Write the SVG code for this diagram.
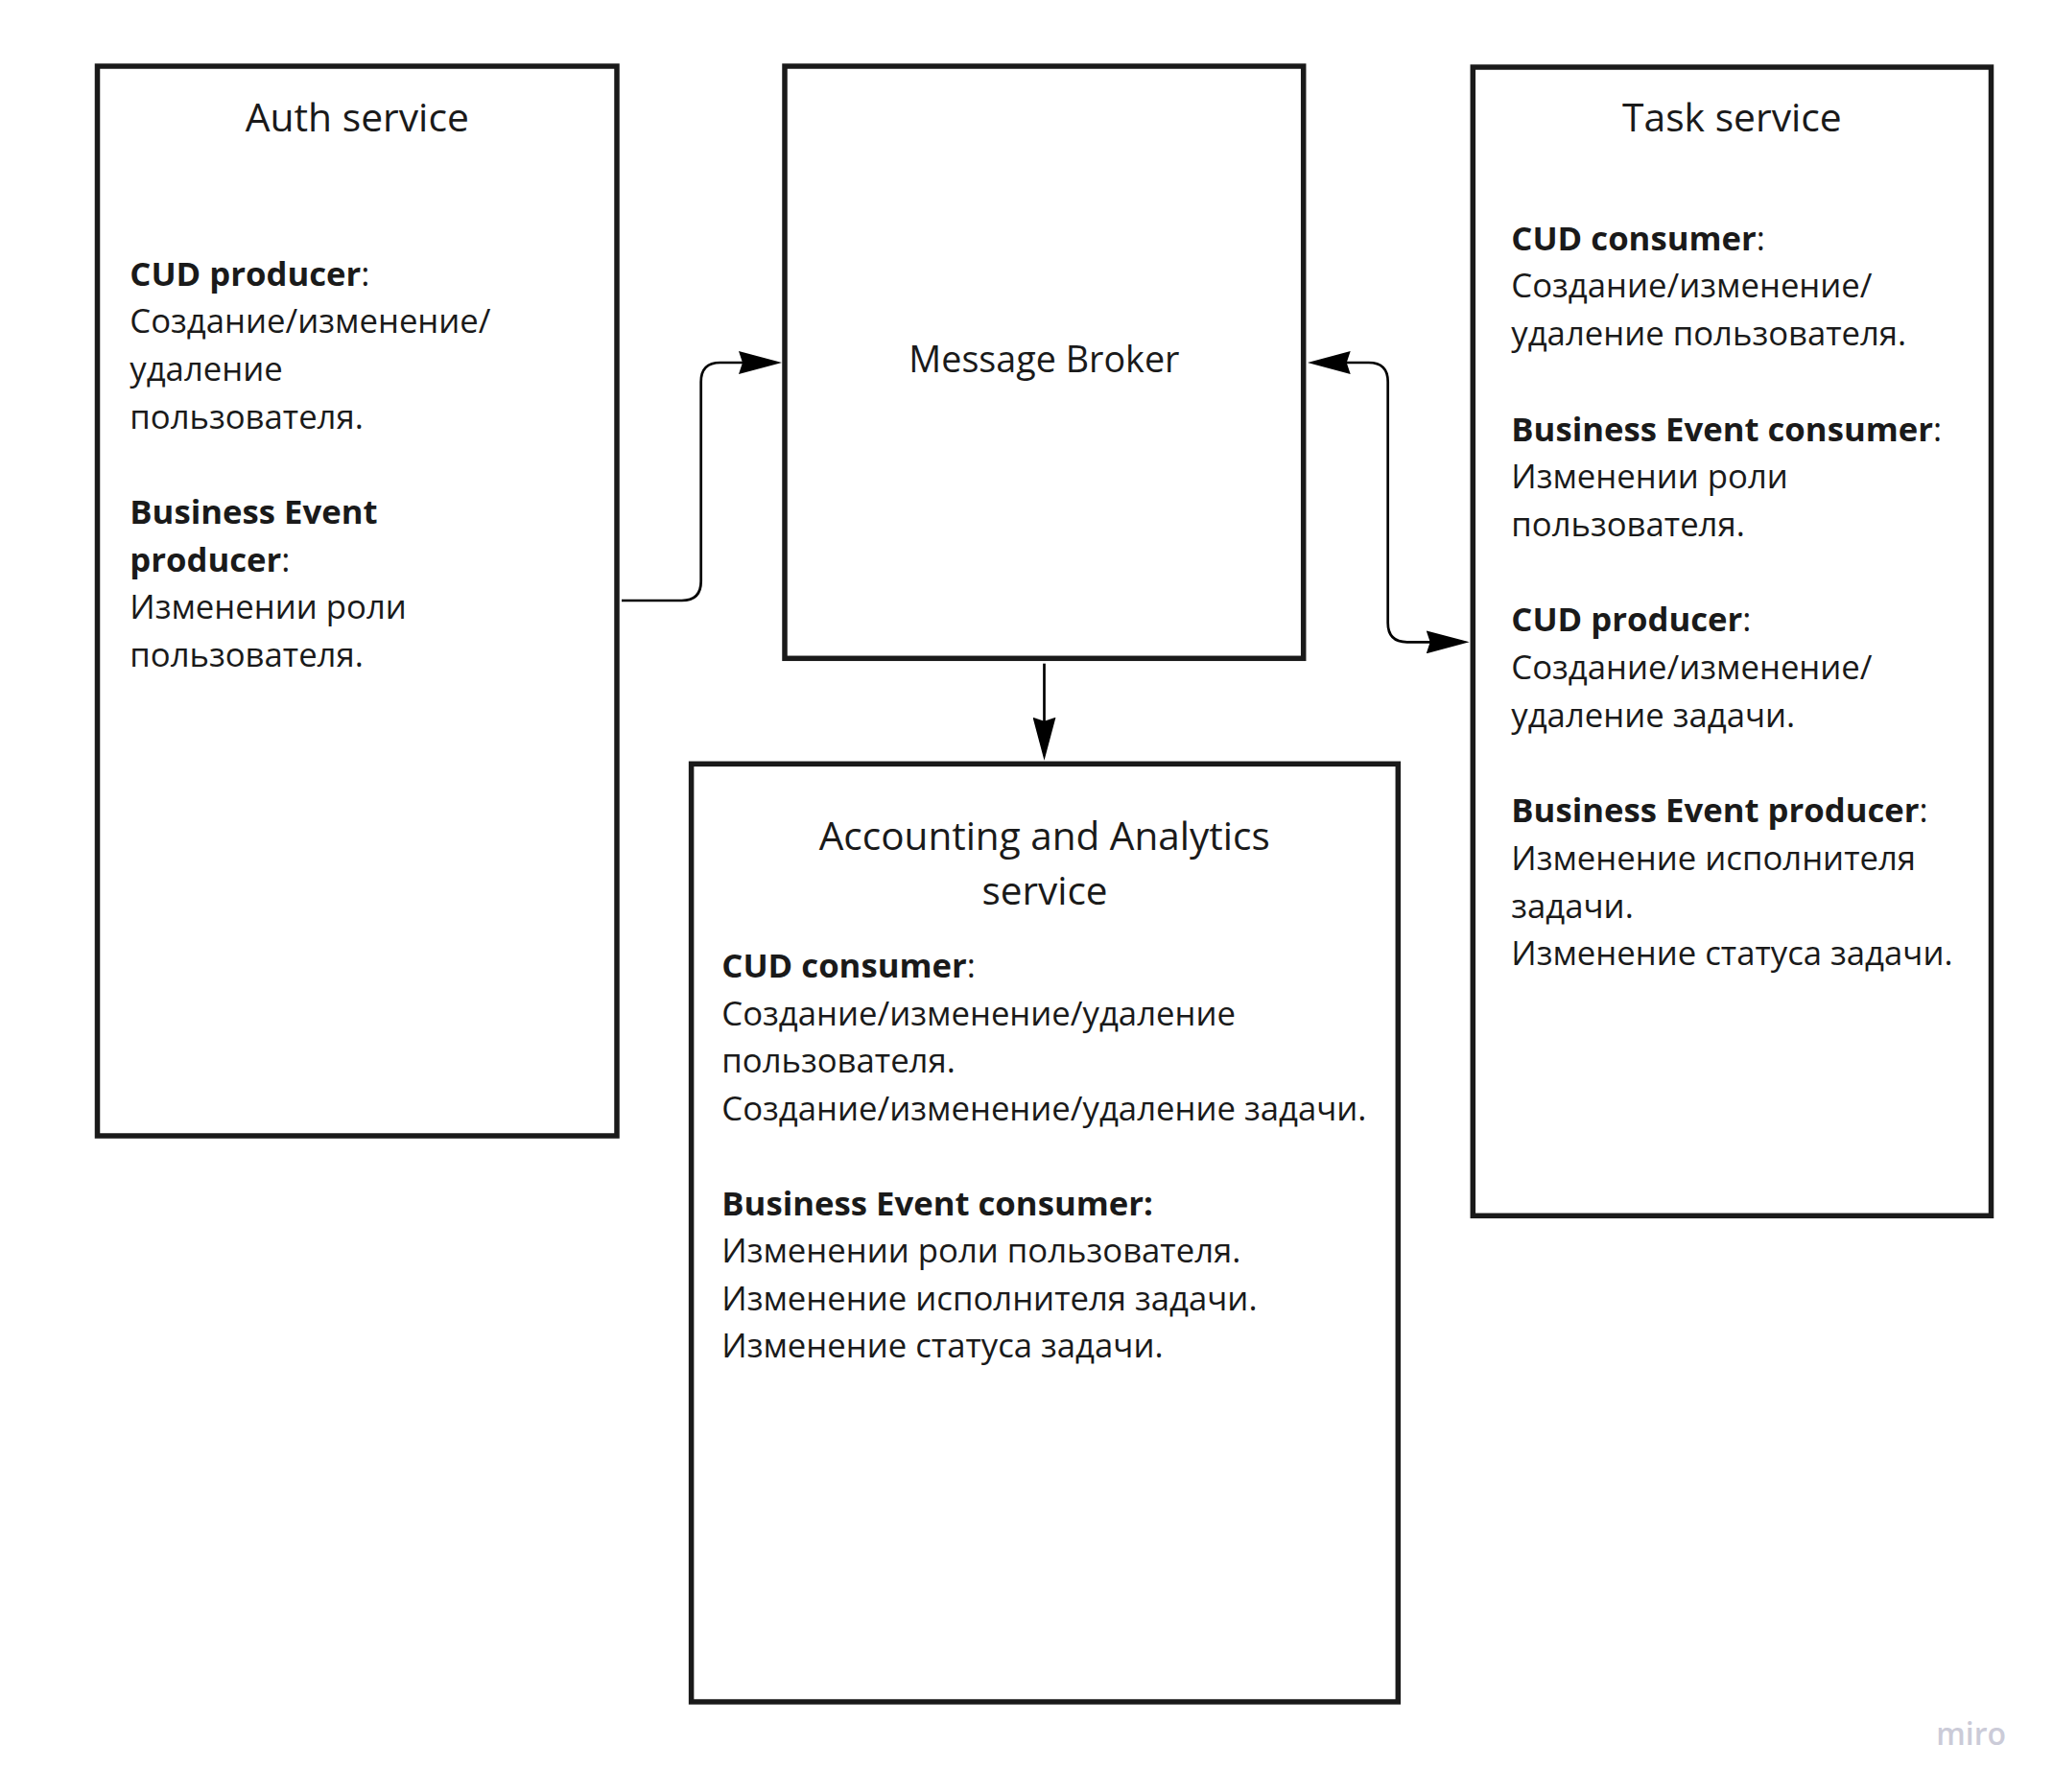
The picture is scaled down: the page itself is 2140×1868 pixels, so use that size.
<svg xmlns="http://www.w3.org/2000/svg" width="2140" height="1868" viewBox="0 0 2140 1868">
  <style>
    .box { fill: #ffffff; stroke: #1a1a1a; stroke-width: 5.5; }
    .title { font-family: "Open Sans", "Noto Sans", "Liberation Sans", sans-serif; font-size: 40.8px; fill: #1a1a1a; text-anchor: middle; }
    .body { font-family: "Open Sans", "Noto Sans", "Liberation Sans", sans-serif; font-size: 34.7px; fill: #1a1a1a; }
    .b { font-weight: 700; }
    .conn { fill: none; stroke: #000000; stroke-width: 2.7; }
    .wm { font-family: "Open Sans", "Noto Sans", "Liberation Sans", sans-serif; font-size: 32px; font-weight: 600; fill: #cbcbd8; text-anchor: end; }
  </style>
  <defs>
    <marker id="arrow" markerUnits="userSpaceOnUse" markerWidth="45" markerHeight="24" viewBox="0 0 45 24" refX="35" refY="12" orient="auto-start-reverse">
      <path d="M0,0 L45,12 L0,24 L4,12 Z" fill="#000000"/>
    </marker>
  </defs>
  <rect width="2140" height="1868" fill="#ffffff"/>

  <g id="auth-service">
    <rect class="box" x="101.5" y="69" width="541.5" height="1115"/>
    <text class="title" x="372.3" y="137">Auth service</text>
    <text class="body">
      <tspan x="135.3" y="297.5"><tspan class="b">CUD producer</tspan>:</tspan>
      <tspan x="135.3" y="347.2">Создание/изменение/</tspan>
      <tspan x="135.3" y="396.9">удаление</tspan>
      <tspan x="135.3" y="446.6">пользователя.</tspan>
      <tspan x="135.3" y="546" class="b">Business Event</tspan>
      <tspan x="135.3" y="595.7"><tspan class="b">producer</tspan>:</tspan>
      <tspan x="135.3" y="645.4">Изменении роли</tspan>
      <tspan x="135.3" y="695.1">пользователя.</tspan>
    </text>
  </g>

  <g id="message-broker">
    <rect class="box" x="818" y="69" width="540.7" height="617.3"/>
    <text class="title" x="1088.4" y="388.3" style="font-size:37.7px">Message Broker</text>
  </g>

  <g id="task-service">
    <rect class="box" x="1535.3" y="70" width="540.2" height="1197.3"/>
    <text class="title" x="1805.4" y="137">Task service</text>
    <text class="body">
      <tspan x="1575.3" y="260.7"><tspan class="b">CUD consumer</tspan>:</tspan>
      <tspan x="1575.3" y="310.4">Создание/изменение/</tspan>
      <tspan x="1575.3" y="360.1">удаление пользователя.</tspan>
      <tspan x="1575.3" y="459.5"><tspan class="b">Business Event consumer</tspan>:</tspan>
      <tspan x="1575.3" y="509.2">Изменении роли</tspan>
      <tspan x="1575.3" y="558.9">пользователя.</tspan>
      <tspan x="1575.3" y="658.3"><tspan class="b">CUD producer</tspan>:</tspan>
      <tspan x="1575.3" y="708">Создание/изменение/</tspan>
      <tspan x="1575.3" y="757.7">удаление задачи.</tspan>
      <tspan x="1575.3" y="857.1"><tspan class="b">Business Event producer</tspan>:</tspan>
      <tspan x="1575.3" y="906.8">Изменение исполнителя</tspan>
      <tspan x="1575.3" y="956.5">задачи.</tspan>
      <tspan x="1575.3" y="1006.2">Изменение статуса задачи.</tspan>
    </text>
  </g>

  <g id="accounting-analytics-service">
    <rect class="box" x="720.6" y="796.3" width="736.7" height="977.7"/>
    <text class="title" style="font-size:40.5px">
      <tspan x="1094" y="886">Accounting and Analytics</tspan>
      <tspan x="1089" y="943.3">service</tspan>
    </text>
    <text class="body">
      <tspan x="752.3" y="1019"><tspan class="b">CUD consumer</tspan>:</tspan>
      <tspan x="752.3" y="1068.5">Создание/изменение/удаление</tspan>
      <tspan x="752.3" y="1118">пользователя.</tspan>
      <tspan x="752.3" y="1167.5">Создание/изменение/удаление задачи.</tspan>
      <tspan x="752.3" y="1266.5" class="b">Business Event consumer:</tspan>
      <tspan x="752.3" y="1316">Изменении роли пользователя.</tspan>
      <tspan x="752.3" y="1365.5">Изменение исполнителя задачи.</tspan>
      <tspan x="752.3" y="1415">Изменение статуса задачи.</tspan>
    </text>
  </g>

  <g id="connectors">
    <path class="conn" d="M648,626 H710.7 Q730.7,626 730.7,606 V398 Q730.7,378 750.7,378 H805" marker-end="url(#arrow)"/>
    <path class="conn" d="M1372.7,378 H1426.7 Q1446.7,378 1446.7,398 V649.3 Q1446.7,669.3 1466.7,669.3 H1521.7" marker-start="url(#arrow)" marker-end="url(#arrow)"/>
    <path class="conn" d="M1088.5,691.7 V782.7" marker-end="url(#arrow)"/>
  </g>

  <text class="wm" x="2091" y="1819">miro</text>
</svg>
